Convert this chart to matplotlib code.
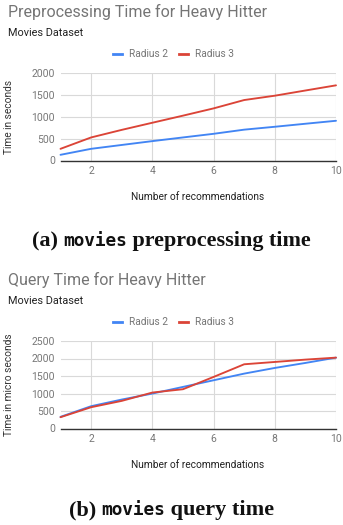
import matplotlib
matplotlib.use("Agg")
import matplotlib.pyplot as plt

# Preprocessing time (seconds) per number of recommendations
recs = [1, 2, 3, 4, 5, 6, 7, 8, 9, 10]
prep_radius2 = [130, 267, 355, 443, 527, 610, 705, 771, 840, 908]
prep_radius3 = [267, 527, 700, 863, 1025, 1191, 1382, 1481, 1600, 1718]

# Query time (micro seconds) per number of recommendations
query_radius2 = [333, 637, 827, 998, 1188, 1378, 1568, 1730, 1873, 2025]
query_radius3 = [323, 608, 789, 1027, 1122, 1473, 1835, 1901, 1968, 2025]

series_names = ["Radius 2", "Radius 3"]
series_colors = ["#4285F4", "#DB4437"]
x_ticks = [2, 4, 6, 8, 10]

W, H = 343, 525
fig = plt.figure(figsize=(W / 100, H / 100), dpi=100)
renderer = fig.canvas.get_renderer()

FONT = "Roboto"
GRAY = "#757575"


def fx(x):
    return x / W


def fy(y):
    return 1 - y / H


def caption(parts, y, width_px):
    # caption built from serif and monospace pieces, scaled to a given width
    size = 13
    for _ in range(2):
        texts = []
        for s, fam, rel in parts:
            t = fig.text(0, fy(y), s, fontsize=size * rel, family=fam,
                         weight="bold", va="baseline", ha="left",
                         color="#111111")
            texts.append(t)
        widths = [t.get_window_extent(renderer).width for t in texts]
        total = sum(widths)
        if _ == 0:
            for t in texts:
                t.remove()
            size *= width_px / total
    x = (W - total) / 2
    for t, w in zip(texts, widths):
        t.set_x(fx(x))
        x += w


def panel(top_y, title, ylabel, ymax, ystep, ys):
    # chart block: title, subtitle, legend, plot, axis labels
    fig.text(fx(8), fy(top_y), title, fontsize=11.5, color=GRAY,
             family=FONT, va="center", ha="left")
    fig.text(fx(8), fy(top_y + 21), "Movies Dataset", fontsize=7.8,
             color="#222222", family=FONT, va="center", ha="left")

    # legend row
    ly = top_y + 42
    for (x0, name, col) in [(113, series_names[0], series_colors[0]),
                            (179, series_names[1], series_colors[1])]:
        fig.add_artist(plt.Line2D([fx(x0), fx(x0 + 9)], [fy(ly), fy(ly)],
                                  color=col, lw=2.0,
                                  transform=fig.transFigure))
        fig.text(fx(x0 + 16), fy(ly), name, fontsize=7.3, color=GRAY,
                 family=FONT, va="center", ha="left")

    plot_top = top_y + 61
    plot_bot = top_y + 148.5
    ax = fig.add_axes([fx(60.5), fy(plot_bot), fx(336) - fx(60.5),
                       fy(plot_top) - fy(plot_bot)])
    for vals, col in zip(ys, series_colors):
        ax.plot(recs, vals, color=col, lw=1.35, solid_capstyle="round",
                clip_on=False, zorder=3)
    ax.set_xlim(1, 10)
    ax.set_ylim(0, ymax)
    ax.set_xticks(x_ticks)
    ax.set_yticks(range(0, ymax + 1, ystep))
    ax.grid(True, color="#d9d9d9", lw=0.8)
    ax.set_axisbelow(True)
    for s in ["top", "right", "left"]:
        ax.spines[s].set_visible(False)
    ax.spines["bottom"].set_color("#333333")
    ax.spines["bottom"].set_linewidth(1.0)
    ax.tick_params(length=0, labelsize=7.5, labelcolor="#777777", pad=4)
    for lab in ax.get_xticklabels() + ax.get_yticklabels():
        lab.set_family(FONT)
    ax.set_ylabel(ylabel, fontsize=7.3, color="#333333", family=FONT)
    ax.yaxis.set_label_coords(-(60.5 - 14) / (336 - 60.5), 0.5)
    fig.text(fx(198), fy(plot_bot + 37), "Number of recommendations",
             fontsize=7.3, color="#222222", family=FONT, ha="center",
             va="center")
    return ax


panel(12, "Preprocessing Time for Heavy Hitter", "Time in seconds",
      2000, 500, [prep_radius2, prep_radius3])
panel(280, "Query Time for Heavy Hitter", "Time in micro seconds",
      2500, 500, [query_radius2, query_radius3])

SERIF = "Liberation Serif"
MONO = "DejaVu Sans Mono"
caption([("(a) ", SERIF, 1.0), ("movies", MONO, 0.8),
         (" preprocessing time", SERIF, 1.0)], 246, 278)
caption([("(b) ", SERIF, 1.0), ("movies", MONO, 0.8),
         (" query time", SERIF, 1.0)], 515, 205)

fig.savefig("out.png", dpi=100)
